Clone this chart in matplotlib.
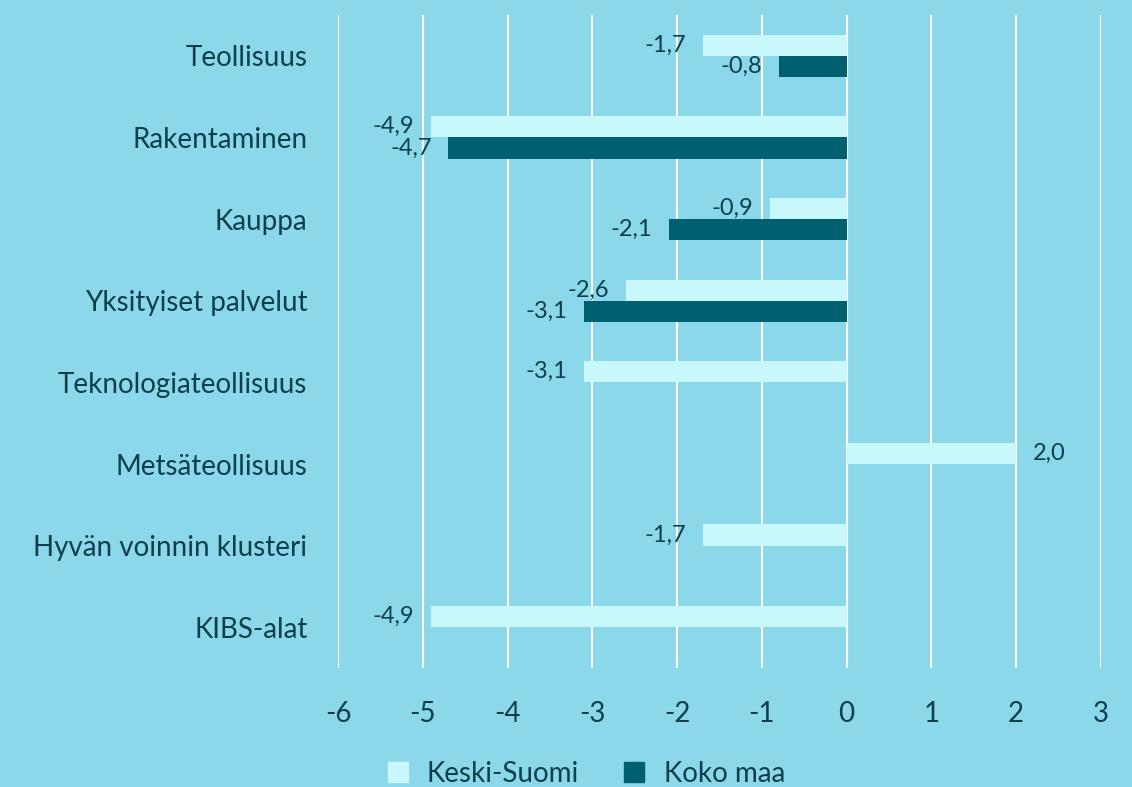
import numpy as np
import matplotlib.pyplot as plt
from matplotlib.lines import Line2D

categories = ["Teollisuus", "Rakentaminen", "Kauppa", "Yksityiset palvelut",
              "Teknologiateollisuus", "Metsäteollisuus", "Hyvän voinnin klusteri", "KIBS-alat"]
keski_suomi = [-1.7, -4.9, -0.9, -2.6, -3.1, 2.0, -1.7, -4.9]
koko_maa = [-0.8, -4.7, -2.1, -3.1, np.nan, np.nan, np.nan, np.nan]

BG = "#8AD8EA"
LIGHT = "#C8F8FC"
DARK = "#006070"
TXT = "#0E3F4A"

plt.rcParams["font.family"] = ["Lato", "DejaVu Sans"]
plt.rcParams["axes.unicode_minus"] = False

fig = plt.figure(figsize=(11.32, 7.87), dpi=100, facecolor=BG)
ax = fig.add_axes([0.2986, 0.151, 0.674, 0.830])
ax.set_facecolor(BG)

y = np.arange(len(categories))
h = 0.26
ax.barh(y - h / 2, keski_suomi, height=h, color=LIGHT, label="Keski-Suomi", zorder=3)
ax.barh(y + h / 2, koko_maa, height=h, color=DARK, label="Koko maa", zorder=3)


def fmt(v):
    return f"{v:.1f}".replace(".", ",")


for vals, off in ((keski_suomi, -h / 2), (koko_maa, h / 2)):
    for yi, v in zip(y, vals):
        if np.isnan(v):
            continue
        if v < 0:
            ax.annotate(fmt(v), (v, yi + off), xytext=(-12, 0), textcoords="offset points",
                        ha="right", va="center", fontsize=17, color=TXT, zorder=4)
        else:
            ax.annotate(fmt(v), (v, yi + off), xytext=(12, 0), textcoords="offset points",
                        ha="left", va="center", fontsize=17, color=TXT, zorder=4)

ax.set_xlim(-6, 3)
ax.set_xticks(range(-6, 4))
ax.set_ylim(len(categories) - 0.5, -0.5)
ax.set_yticks(y)
ax.set_yticklabels(categories)
ax.grid(axis="x", color="white", linewidth=1.5, zorder=1)
for s in ax.spines.values():
    s.set_visible(False)
ax.tick_params(axis="y", length=0, pad=22, labelsize=20, labelcolor=TXT)
ax.tick_params(axis="x", length=0, pad=24, labelsize=20, labelcolor=TXT)

handles = [Line2D([], [], marker="s", linestyle="none", markersize=14, color=LIGHT),
           Line2D([], [], marker="s", linestyle="none", markersize=14, color=DARK)]
fig.legend(handles, ["Keski-Suomi", "Koko maa"], loc="center", bbox_to_anchor=(0.51, 0.017),
           ncol=2, frameon=False, fontsize=20, labelcolor=TXT, handletextpad=0.05,
           columnspacing=1.0)

fig.savefig("out.png", dpi=100, facecolor=BG)
